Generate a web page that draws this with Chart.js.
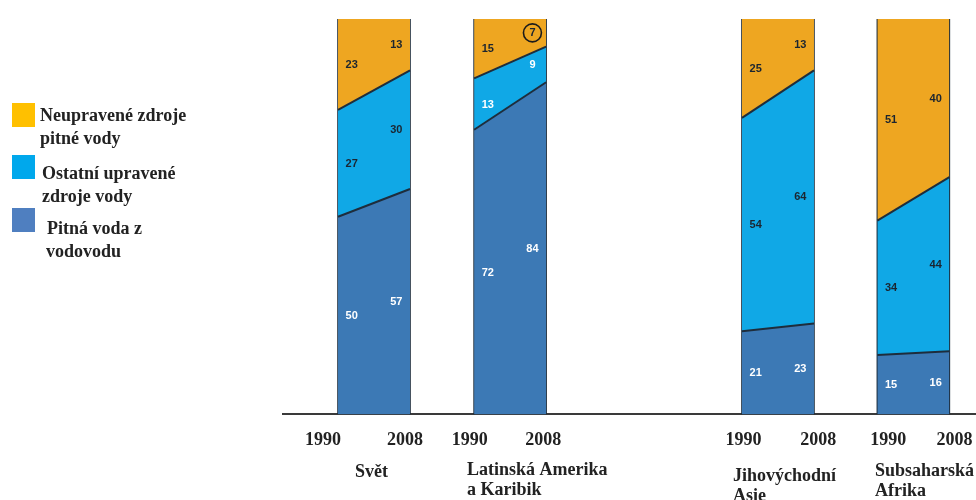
<!DOCTYPE html>
<html>
<head>
<meta charset="utf-8">
<script src="https://cdn.jsdelivr.net/npm/chart.js"></script>
<style>
  html, body { margin: 0; padding: 0; background: #ffffff; }
  #wrap { position: relative; width: 976px; height: 500px; }
</style>
</head>
<body>
<div id="wrap"><canvas id="chart" width="976" height="500"></canvas></div>
<script>
// Regions and years
const regions = ["Svět", "Latinská Amerika\na Karibik", "Jihovýchodní\nAsie", "Subsaharská\nAfrika"];
const years = ["1990", "2008"];

// Shares of population (%) by source of drinking water
const piped1990 = [50, 72, 21, 15];
const piped2008 = [57, 84, 23, 16];
const otherImproved1990 = [27, 13, 54, 34];
const otherImproved2008 = [30, 9, 64, 44];
const unimproved1990 = [23, 15, 25, 51];
const unimproved2008 = [13, 7, 13, 40];

// Legend entries, top to bottom
const seriesNames = ["Neupravené zdroje\npitné vody", "Ostatní upravené\nzdroje vody", "Pitná voda z\nvodovodu"];

// ---- layout (x units: one column = 1 unit wide) ----
const groupLeft = [0, 1.89, 5.61, 7.49];
const labelInset = 0.19;
const yearTickX = [-0.21, 0.93, 1.83, 2.85, 5.63, 6.67, 7.64, 8.56];

const fillColors = { piped: "#3c79b5", other: "#10a8e6", unimp: "#eea621" };
const legendColors = ["#ffc000", "#00a8ec", "#4f7fc0"];
const edgeColor = "#1e2d3c";
const serif = "'Liberation Serif', 'DejaVu Serif', serif";

const datasets = [];
regions.forEach((r, g) => {
  const L = groupLeft[g], R = groupLeft[g] + 1;
  const p0 = piped1990[g], p1 = piped2008[g];
  const o0 = p0 + otherImproved1990[g], o1 = p1 + otherImproved2008[g];
  const u0 = o0 + unimproved1990[g], u1 = o1 + unimproved2008[g];
  const common = { pointRadius: 0, tension: 0, borderColor: edgeColor, borderWidth: 2 };
  datasets.push(Object.assign({}, common, {
    data: [{ x: L, y: p0 }, { x: R, y: p1 }],
    backgroundColor: fillColors.piped, fill: "origin"
  }));
  datasets.push(Object.assign({}, common, {
    data: [{ x: L, y: o0 }, { x: R, y: o1 }],
    backgroundColor: fillColors.other, fill: "-1"
  }));
  datasets.push(Object.assign({}, common, {
    data: [{ x: L, y: u0 }, { x: R, y: u1 }],
    backgroundColor: fillColors.unimp, fill: "-1", borderWidth: 0
  }));
  // column outline
  datasets.push(Object.assign({}, common, {
    data: [{ x: L, y: 0 }, { x: L, y: 100 }, { x: R, y: 100 }, { x: R, y: 0 }],
    fill: false, borderWidth: 1.6
  }));
});

// value labels in the middle of each band, plus the legend and region names
const annotate = {
  id: "annotate",
  afterDatasetsDraw(chart) {
    const ctx = chart.ctx;
    const xs = chart.scales.x, ys = chart.scales.y;
    ctx.save();
    ctx.textAlign = "center";
    ctx.textBaseline = "middle";
    ctx.font = "bold 11px 'Liberation Sans', Arial, sans-serif";
    regions.forEach((r, g) => {
      [0, 1].forEach(side => {
        const bands = side === 0
          ? [piped1990[g], otherImproved1990[g], unimproved1990[g]]
          : [piped2008[g], otherImproved2008[g], unimproved2008[g]];
        const xv = side === 0 ? groupLeft[g] + labelInset : groupLeft[g] + 1 - labelInset;
        const px = xs.getPixelForValue(xv);
        let base = 0;
        bands.forEach((v, k) => {
          const py = ys.getPixelForValue(base + v / 2);
          let color = "#1b2530";
          if (k === 0) color = "#ffffff";
          if (k === 1 && g === 1) color = "#ffffff";
          ctx.fillStyle = color;
          ctx.fillText(String(v), px, py + 0.5);
          if (g === 1 && side === 1 && k === 2) {
            ctx.beginPath();
            ctx.strokeStyle = "#1b1b1b";
            ctx.lineWidth = 1.6;
            ctx.arc(px, py, 9, 0, Math.PI * 2);
            ctx.stroke();
          }
          base += v;
        });
      });
    });

    // region names under the year ticks
    ctx.fillStyle = "#222222";
    ctx.font = "bold 18px " + serif;
    ctx.textAlign = "left";
    const nameX = [355, 467, 733, 875];
    const nameY = [472, 470, 476, 471];
    regions.forEach((r, g) => {
      r.split("\n").forEach((line, i) => {
        ctx.fillText(line, nameX[g], nameY[g] + i * 20);
      });
    });

    // legend
    const boxY = [103, 155, 208];
    const textX = [40, 42, 47];
    const textY = [116, 174, 229];
    seriesNames.forEach((name, i) => {
      ctx.fillStyle = legendColors[i];
      ctx.fillRect(12, boxY[i], 23, 24);
      ctx.fillStyle = "#222222";
      ctx.font = "bold 18px " + serif;
      name.split("\n").forEach((line, j) => {
        ctx.fillText(line, textX[i] - (i === 2 && j === 1 ? 1 : 0), textY[i] + j * 23);
      });
    });
    ctx.restore();
  }
};

new Chart(document.getElementById("chart"), {
  type: "line",
  data: { datasets },
  plugins: [annotate],
  options: {
    responsive: false,
    animation: false,
    events: [],
    layout: { padding: { left: 283, right: 0, top: 19, bottom: 34 } },
    plugins: { legend: { display: false }, tooltip: { enabled: false } },
    scales: {
      x: {
        type: "linear",
        min: -0.764,
        max: 8.86,
        grid: { display: false, drawTicks: false },
        border: { display: true, color: "#3a3a3a", width: 2 },
        afterBuildTicks(scale) {
          scale.ticks = yearTickX.map(v => ({ value: v }));
        },
        afterFit(scale) {
          scale.paddingLeft = 0;
          scale.paddingRight = 0;
        },
        ticks: {
          autoSkip: false,
          maxRotation: 0,
          padding: 15,
          color: "#222222",
          font: { family: serif, size: 18, weight: "bold" },
          callback: (value, index) => years[index % 2]
        }
      },
      y: {
        display: false,
        min: 0,
        max: 100
      }
    }
  }
});
</script>
</body>
</html>
